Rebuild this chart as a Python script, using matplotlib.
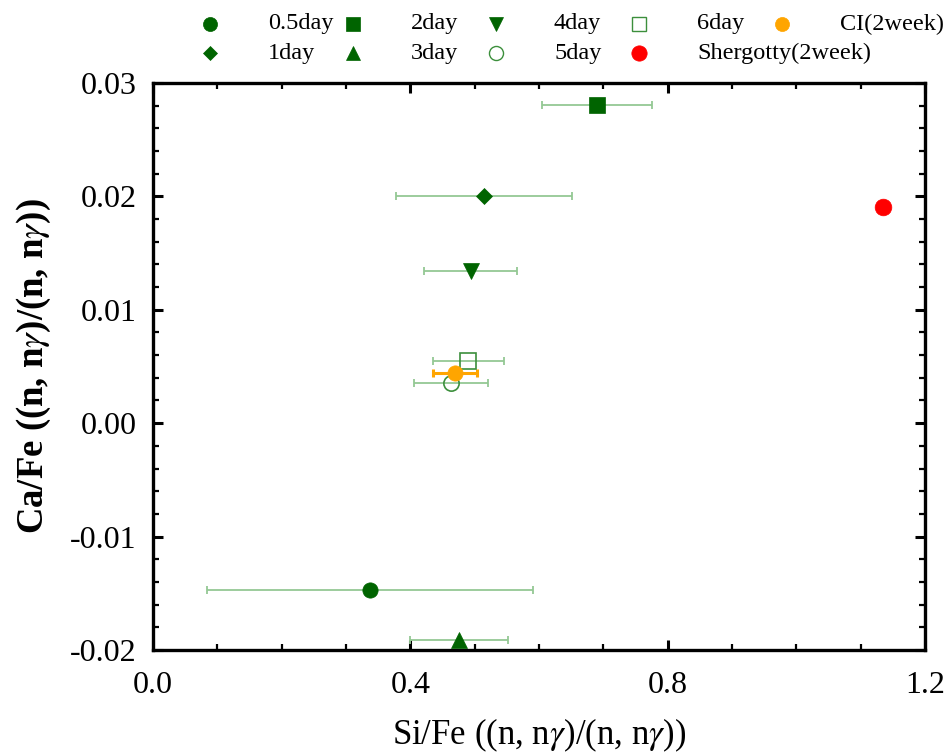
import matplotlib
matplotlib.use("Agg")
import matplotlib.pyplot as plt
from matplotlib.lines import Line2D
from matplotlib.ticker import MultipleLocator, FormatStrFormatter

plt.rcParams["font.family"] = "serif"
plt.rcParams["font.serif"] = ["Liberation Serif", "DejaVu Serif"]
plt.rcParams["mathtext.fontset"] = "stix"
plt.rcParams["axes.unicode_minus"] = False

# 照射日数ごとの Si/Fe, Ca/Fe 比
labels = ["0.5day", "1day", "2day", "3day", "4day", "5day", "6day",
          "CI(2week)", "Shergotty(2week)"]
si_fe = [0.337, 0.515, 0.690, 0.476, 0.494, 0.463, 0.490, 0.469, 1.135]
si_fe_err = [0.253, 0.137, 0.086, 0.076, 0.072, 0.058, 0.055, 0.034, 0.006]
ca_fe = [-0.0147, 0.0200, 0.0281, -0.0191, 0.0134, 0.0035, 0.0055, 0.0044, 0.0191]

DARK_GREEN = "#006400"
OPEN_GREEN = "#3c8f3c"
ERR_GREEN = "#94c894"

# 各系列の描画スタイル (marker, 塗り, 枠, エラーバー色, エラーバー太さ, サイズ)
styles = {
    "0.5day":           ("o", DARK_GREEN, DARK_GREEN, ERR_GREEN, 1.3, 11),
    "1day":             ("D", DARK_GREEN, DARK_GREEN, ERR_GREEN, 1.3, 8),
    "2day":             ("s", DARK_GREEN, DARK_GREEN, ERR_GREEN, 1.3, 11.5),
    "3day":             ("^", DARK_GREEN, DARK_GREEN, ERR_GREEN, 1.3, 11),
    "4day":             ("v", DARK_GREEN, DARK_GREEN, ERR_GREEN, 1.3, 11),
    "5day":             ("o", "none", OPEN_GREEN, ERR_GREEN, 1.3, 11),
    "6day":             ("s", "none", OPEN_GREEN, ERR_GREEN, 1.3, 11.5),
    "CI(2week)":        ("o", "#FFA500", "#FFA500", "#FFA500", 2.2, 11),
    "Shergotty(2week)": ("o", "#FF0000", "#FF0000", "#FF0000", 2.0, 12),
}

fig = plt.figure(figsize=(9.49, 7.55), dpi=100)
ax = fig.add_axes([0.1612, 0.1391, 0.8135, 0.7510])

for name, x, xe, y in zip(labels, si_fe, si_fe_err, ca_fe):
    mk, fc, ec, errc, elw, ms = styles[name]
    ax.errorbar(x, y, xerr=xe, fmt="none", ecolor=errc, elinewidth=elw,
                capsize=3, capthick=elw, zorder=2)
    ax.plot(x, y, marker=mk, markersize=ms, markerfacecolor=fc,
            markeredgecolor=ec, markeredgewidth=1.2 if fc == "none" else 0.5,
            linestyle="none", zorder=3)

ax.set_xlim(0.0, 1.2)
ax.set_ylim(-0.02, 0.03)
ax.xaxis.set_major_locator(MultipleLocator(0.4))
ax.xaxis.set_minor_locator(MultipleLocator(0.1))
ax.yaxis.set_major_locator(MultipleLocator(0.01))
ax.yaxis.set_minor_locator(MultipleLocator(0.002))
ax.xaxis.set_major_formatter(FormatStrFormatter("%.1f"))
ax.yaxis.set_major_formatter(FormatStrFormatter("%.2f"))

ax.tick_params(which="both", direction="in", top=True, right=True,
               labelsize=23)
ax.tick_params(which="major", length=7, width=2.2)
ax.tick_params(axis="y", which="major", pad=12)
ax.tick_params(axis="x", which="major", pad=15)
ax.tick_params(which="minor", length=4, width=1.6)
for sp in ax.spines.values():
    sp.set_linewidth(2.4)

ax.set_xlabel(r"Si/Fe ((n, n$\gamma$)/(n, n$\gamma$))", fontsize=25, labelpad=12)
ax.set_ylabel(r"Ca/Fe ((n, n$\gamma$)/(n, n$\gamma$))", fontsize=26.5,
              fontweight="bold", labelpad=12)

# 凡例：上部に 5 列 × 2 行で並べる
x0, dx, text_off = 210 / 949, 143 / 949, 58 / 949
row_y = [1 - 24 / 755, 1 - 53 / 755]
legend_pos = {
    "0.5day": (0, 0), "1day": (0, 1), "2day": (1, 0), "3day": (1, 1),
    "4day": (2, 0), "5day": (2, 1), "6day": (3, 0),
    "Shergotty(2week)": (3, 1), "CI(2week)": (4, 0),
}
for name in labels:
    col, row = legend_pos[name]
    mk, fc, ec, errc, elw, ms = styles[name]
    mx = x0 + col * dx
    my = row_y[row]
    fig.add_artist(Line2D([mx], [my], marker=mk, markersize=ms * 0.92,
                          markerfacecolor=fc, markeredgecolor=ec,
                          markeredgewidth=1.0 if fc == "none" else 0.5,
                          linestyle="none", transform=fig.transFigure))
    fig.text(mx + text_off, my, name, fontsize=17.5, ha="left", va="center")

fig.savefig("out.png", dpi=100)
